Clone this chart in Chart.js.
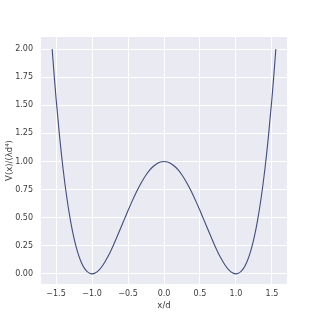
<!DOCTYPE html>
<html>
<head>
<meta charset="utf-8">
<script src="https://cdn.jsdelivr.net/npm/chart.js@4"></script>
<style>
  html, body { margin: 0; padding: 0; background: #fff; }
  #wrap { width: 320px; height: 320px; }
</style>
</head>
<body>
<div id="wrap"><canvas id="myChart"></canvas></div>
<script>
// values
const xValues = [-1.554, -1.525, -1.5, -1.45, -1.4, -1.35, -1.3, -1.25, -1.2, -1.15, -1.1, -1.05, -1.0, -0.95, -0.9, -0.85, -0.8, -0.75, -0.7, -0.65, -0.6, -0.55, -0.5, -0.45, -0.4, -0.35, -0.3, -0.25, -0.2, -0.15, -0.1, -0.05, 0.0,
  0.05, 0.1, 0.15, 0.2, 0.25, 0.3, 0.35, 0.4, 0.45, 0.5, 0.55, 0.6, 0.65, 0.7, 0.75, 0.8, 0.85, 0.9, 0.95, 1.0, 1.05, 1.1, 1.15, 1.2, 1.25, 1.3, 1.35, 1.4, 1.45, 1.5, 1.525, 1.554];
const vValues = [2.000, 1.757, 1.563, 1.216, 0.922, 0.677, 0.476, 0.316, 0.194, 0.104, 0.044, 0.011, 0.000, 0.010, 0.036, 0.077, 0.130, 0.191, 0.260, 0.334, 0.410, 0.487, 0.563, 0.636, 0.706, 0.770, 0.828, 0.879, 0.922, 0.955, 0.980, 0.995, 1.000,
  0.995, 0.980, 0.955, 0.922, 0.879, 0.828, 0.770, 0.706, 0.636, 0.563, 0.487, 0.410, 0.334, 0.260, 0.191, 0.130, 0.077, 0.036, 0.010, 0.000, 0.011, 0.044, 0.104, 0.194, 0.316, 0.476, 0.677, 0.922, 1.216, 1.563, 1.757, 2.000];
const xTicks = [-1.5, -1.0, -0.5, 0.0, 0.5, 1.0, 1.5];
const yTicks = [0, 0.25, 0.5, 0.75, 1.0, 1.25, 1.5, 1.75, 2.0];

const ctx = document.getElementById("myChart").getContext("2d");

// grey panel behind the plot, seaborn style
const panelBg = {
  id: "panelBg",
  beforeDraw(chart) {
    const a = chart.chartArea;
    const c = chart.ctx;
    c.save();
    c.fillStyle = "#eaeaf2";
    c.fillRect(a.left, a.top, a.right - a.left, a.bottom - a.top);
    c.restore();
  },
};

const tickFont = { family: "DejaVu Sans", size: 8 };

new Chart(ctx, {
  type: "line",
  data: {
    datasets: [
      {
        data: xValues.map((x, i) => ({ x: x, y: vValues[i] })),
        borderColor: "#414d7c",
        borderWidth: 1.1,
        pointRadius: 0,
        fill: false,
        cubicInterpolationMode: "monotone",
      },
    ],
  },
  options: {
    responsive: true,
    maintainAspectRatio: false,
    animation: false,
    layout: { padding: { top: 37, right: 33, left: 5, bottom: 9 } },
    plugins: { legend: { display: false }, tooltip: { enabled: false } },
    scales: {
      x: {
        type: "linear",
        min: -1.709,
        max: 1.709,
        afterBuildTicks: (scale) => {
          scale.ticks = xTicks.map((v) => ({ value: v }));
        },
        afterFit: (scale) => {
          scale.height = 27;
        },
        grid: { color: "#ffffff", lineWidth: 1, drawTicks: false },
        border: { display: false },
        ticks: {
          padding: 5,
          color: "#3a3a3a",
          font: tickFont,
          maxRotation: 0,
          callback: (v) => v.toFixed(1).replace("-", "\u2212"),
        },
        title: {
          display: true,
          text: "x/d",
          color: "#3a3a3a",
          font: { family: "DejaVu Sans", size: 8.5 },
          padding: { top: 0, bottom: 0 },
        },
      },
      y: {
        type: "linear",
        min: -0.09,
        max: 2.107,
        afterBuildTicks: (scale) => {
          scale.ticks = yTicks.map((v) => ({ value: v }));
        },
        afterFit: (scale) => {
          scale.width = 36;
        },
        grid: { color: "#ffffff", lineWidth: 1, drawTicks: false },
        border: { display: false },
        ticks: {
          padding: 8,
          color: "#3a3a3a",
          font: tickFont,
          callback: (v) => v.toFixed(2),
        },
        title: {
          display: true,
          text: "V(x)/(\u03bbd\u2074)",
          color: "#3a3a3a",
          font: { family: "DejaVu Sans", size: 8.5 },
          padding: { top: 0, bottom: 0 },
        },
      },
    },
  },
  plugins: [panelBg],
});
</script>
</body>
</html>
